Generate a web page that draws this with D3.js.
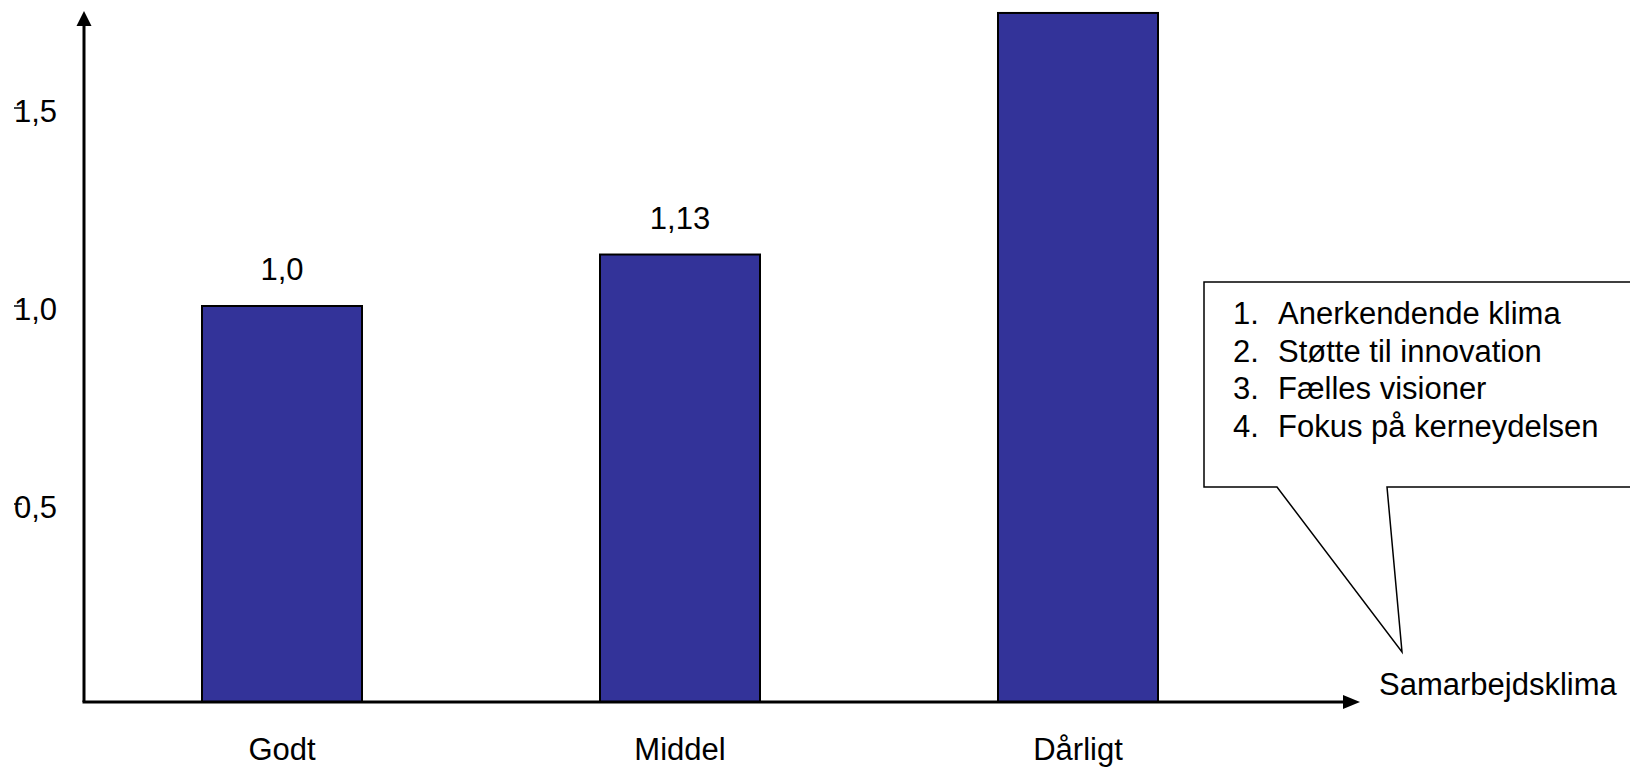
<!DOCTYPE html>
<html>
<head>
<meta charset="utf-8">
<script src="https://cdn.jsdelivr.net/npm/d3@7"></script>
<style>
  html, body { margin: 0; padding: 0; background: #fff; overflow: hidden; }
  svg { display: block; }
  text { font-family: "Liberation Sans", Arial, sans-serif; fill: #000; }
</style>
</head>
<body>
<svg id="chart" width="1630" height="767"></svg>
<script>
// ---- data ----
const categories = ["Godt", "Middel", "Dårligt"];
const values = [1.0, 1.13, 1.74];
const valueLabels = ["1,0", "1,13", "1,74"];
const tickValues = [0.5, 1.0, 1.5];
const tickLabels = ["0,5", "1,0", "1,5"];
const xAxisTitle = "Samarbejdsklima";
const calloutItems = ["Anerkendende klima", "Støtte til innovation", "Fælles visioner", "Fokus på kerneydelsen"];

// ---- layout ----
const W = 1630, H = 767;
const fontSize = 31;
const originX = 84, originY = 702;
const svg = d3.select("#chart");

const x = d3.scaleBand()
  .domain(categories)
  .range([83, 1277])
  .paddingInner(0.598)
  .paddingOuter(0.299);

const y = d3.scaleLinear()
  .domain([0, 1.5])
  .range([originY, 108]);

// bars
svg.append("g").selectAll("rect")
  .data(categories)
  .join("rect")
  .attr("x", d => x(d))
  .attr("y", (d, i) => y(values[i]))
  .attr("width", x.bandwidth())
  .attr("height", (d, i) => originY - y(values[i]))
  .attr("fill", "#333399")
  .attr("stroke", "#000")
  .attr("stroke-width", 2);

// value labels (only those that fit in view)
svg.append("g").selectAll("text")
  .data(categories.map((c, i) => ({c, v: values[i], l: valueLabels[i]})).filter(d => y(d.v) - 26 > fontSize))
  .join("text")
  .attr("x", d => x(d.c) + x.bandwidth() / 2)
  .attr("y", d => y(d.v) - 26)
  .attr("text-anchor", "middle")
  .attr("font-size", fontSize)
  .text(d => d.l);

// y axis labels via d3 axis
const yAxis = d3.axisLeft(y)
  .tickValues(tickValues)
  .tickFormat((d, i) => tickLabels[i])
  .tickSize(0)
  .tickPadding(27);
const gy = svg.append("g").attr("transform", `translate(${originX},0)`).call(yAxis);
gy.select(".domain").remove();
gy.selectAll("text")
  .attr("font-size", fontSize)
  .attr("font-family", '"Liberation Sans", Arial, sans-serif')
  .attr("fill", "#000")
  .attr("dy", "0.45em");

// small tick marks on the far left
svg.append("g").selectAll("line")
  .data(tickValues)
  .join("line")
  .attr("x1", 14).attr("x2", 22)
  .attr("y1", d => y(d)).attr("y2", d => y(d))
  .attr("stroke", "#000").attr("stroke-width", 1.5);

// x axis category labels via d3 axis
const xAxis = d3.axisBottom(x).tickSize(0).tickPadding(36);
const gx = svg.append("g").attr("transform", `translate(0,${originY})`).call(xAxis);
gx.select(".domain").remove();
gx.selectAll("text")
  .attr("font-size", fontSize)
  .attr("font-family", '"Liberation Sans", Arial, sans-serif')
  .attr("fill", "#000")
  .attr("dy", "0.71em");

// axes lines with arrows
svg.append("line")
  .attr("x1", originX).attr("y1", originY)
  .attr("x2", originX).attr("y2", 20)
  .attr("stroke", "#000").attr("stroke-width", 3);
svg.append("path")
  .attr("d", `M${originX},11 L${originX - 7.5},26 L${originX + 7.5},26 Z`)
  .attr("fill", "#000");

svg.append("line")
  .attr("x1", originX - 1.5).attr("y1", originY)
  .attr("x2", 1350).attr("y2", originY)
  .attr("stroke", "#000").attr("stroke-width", 3);
svg.append("path")
  .attr("d", `M1360,${originY} L1343,${originY - 7} L1343,${originY + 7} Z`)
  .attr("fill", "#000");

// x axis title
svg.append("text")
  .attr("x", 1379)
  .attr("y", 695)
  .attr("font-size", fontSize)
  .text(xAxisTitle);

// callout box
const bx0 = 1204, by0 = 282, bx1 = 1645, by1 = 487;
const p1 = 1277, p2 = 1387, tipX = 1402, tipY = 652;
svg.append("path")
  .attr("d", `M${bx0},${by0} L${bx1},${by0} L${bx1},${by1} L${p2},${by1} L${tipX},${tipY} L${p1},${by1} L${bx0},${by1} Z`)
  .attr("fill", "#fff")
  .attr("stroke", "#000")
  .attr("stroke-width", 1.5);

const list = svg.append("g");
calloutItems.forEach((t, i) => {
  const by = 324 + i * 37.5;
  list.append("text")
    .attr("x", 1233).attr("y", by)
    .attr("font-size", fontSize)
    .text((i + 1) + ".");
  list.append("text")
    .attr("x", 1278).attr("y", by)
    .attr("font-size", fontSize)
    .text(t);
});
</script>
</body>
</html>
